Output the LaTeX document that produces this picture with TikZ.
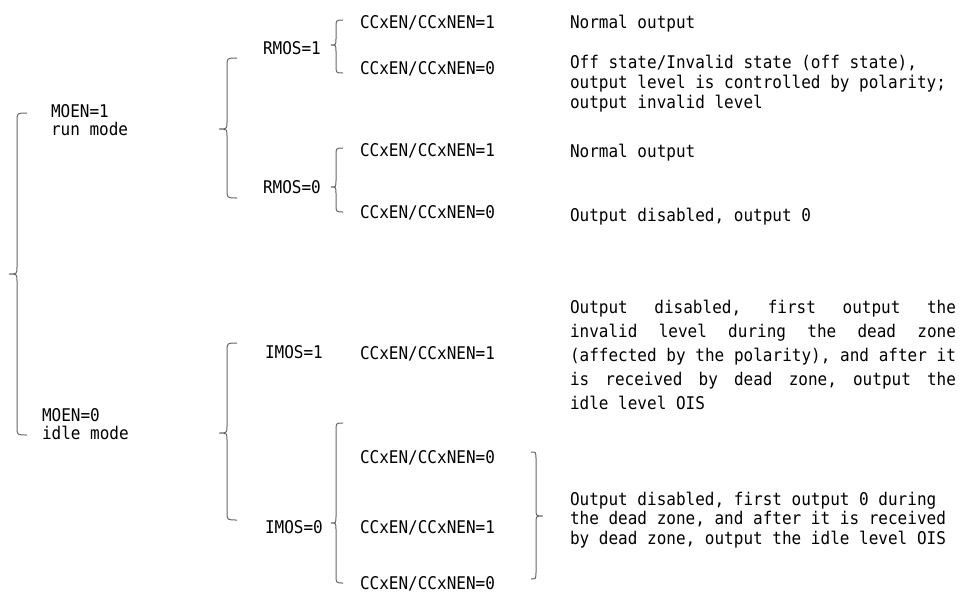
\documentclass[tikz,border=0pt]{standalone}
\usepackage{fontspec}
\setmainfont{DejaVu Sans Mono}[FakeStretch=0.915]
\setmonofont{DejaVu Sans Mono}[FakeStretch=0.915]
\begin{document}
\begin{tikzpicture}[x=1pt,y=-1pt,
  txt/.style={anchor=base west,inner sep=0pt,outer sep=0pt,font=\fontsize{17.5}{19.5}\selectfont,text=black},
  bracestyle/.style={draw=black!60,line width=1pt}]
\useasboundingbox (0,0) rectangle (961,592);
\newcommand{\bracedraw}[6]{%
  \draw[bracestyle] ({#1+#5},#2) .. controls (#1,#2) .. (#1,{#2+8})
    -- (#1,{#3-7}) .. controls (#1,#3) .. ({#1-#6},#3)
    .. controls (#1,#3) .. (#1,{#3+7})
    -- (#1,{#4-8}) .. controls (#1,#4) .. ({#1+#5},#4);}
% braces
\bracedraw{17}{113}{274}{435}{10}{8}
\bracedraw{227}{58}{129}{198}{10}{8}
\bracedraw{227}{343}{433}{520}{10}{8}
\bracedraw{336}{20}{45}{73}{7}{5}
\bracedraw{336}{148}{187}{212}{7}{5}
\bracedraw{336}{423}{523}{583}{7}{5}
\bracedraw{536}{452}{516}{579}{-5}{-7}
% level 1
\node[txt] (moen1) at (51,117) {MOEN=1};
\node[txt] (run) at (51,135) {run mode};
\node[txt] (moen0) at (42,421) {MOEN=0};
\node[txt] (idle) at (42,439) {idle mode};
% level 2
\node[txt] (rmos1) at (263,54) {RMOS=1};
\node[txt] (rmos0) at (263,193) {RMOS=0};
\node[txt] (imos1) at (265,358) {IMOS=1};
\node[txt] (imos0) at (265,533) {IMOS=0};
% level 3
\node[txt] (c1) at (360,28) {CCxEN/CCxNEN=1};
\node[txt] (c2) at (360,74) {CCxEN/CCxNEN=0};
\node[txt] (c3) at (360,156) {CCxEN/CCxNEN=1};
\node[txt] (c4) at (360,218) {CCxEN/CCxNEN=0};
\node[txt] (c5) at (360,359) {CCxEN/CCxNEN=1};
\node[txt] (c6) at (360,463) {CCxEN/CCxNEN=0};
\node[txt] (c7) at (360,533) {CCxEN/CCxNEN=1};
\node[txt] (c8) at (360,589.5) {CCxEN/CCxNEN=0};
% results
\node[txt] (r1) at (570,28) {Normal output};
\node[txt] (r2a) at (570,68) {Off state/Invalid state (off state),};
\node[txt] (r2b) at (570,88) {output level is controlled by polarity;};
\node[txt] (r2c) at (570,108) {output invalid level};
\node[txt] (r3) at (570,157) {Normal output};
\node[txt] (r4) at (570,221) {Output disabled, output 0};
\node[txt] (r5a) at (570,313) {\makebox[386pt][l]{Output\hfill disabled,\hfill first\hfill output\hfill the}};
\node[txt] (r5b) at (570,337) {\makebox[386pt][l]{invalid\hfill level\hfill during\hfill the\hfill dead\hfill zone}};
\node[txt] (r5c) at (570,361) {\makebox[386pt][l]{(affected\hfill by\hfill the\hfill polarity),\hfill and\hfill after\hfill it}};
\node[txt] (r5d) at (570,385) {\makebox[386pt][l]{is\hfill received\hfill by\hfill dead\hfill zone,\hfill output\hfill the}};
\node[txt] (r5e) at (570,409) {idle level OIS};
\node[txt] (r6a) at (570,505) {Output disabled, first output 0 during};
\node[txt] (r6b) at (570,524.5) {the dead zone, and after it is received};
\node[txt] (r6c) at (570,544) {by dead zone, output the idle level OIS};
\end{tikzpicture}
\end{document}
